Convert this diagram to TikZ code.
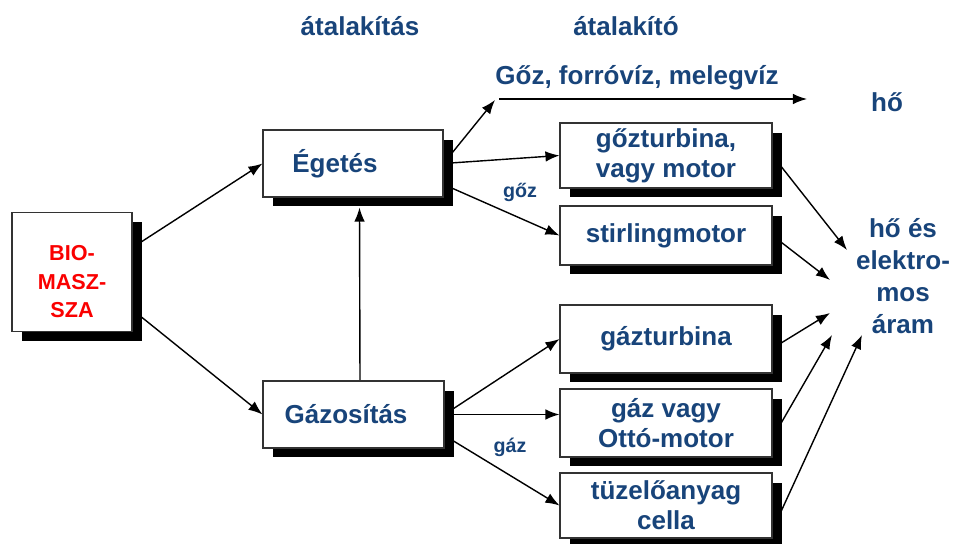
\documentclass[tikz,border=0pt]{standalone}
\usepackage{fontspec}
\setmainfont{Liberation Sans}
\usetikzlibrary{arrows.meta,shadows,backgrounds}
\definecolor{darkblue}{RGB}{24,68,122}
\definecolor{biored}{RGB}{250,0,0}
\tikzset{
  box/.style={draw=black!80, line width=0.6pt, fill=white, align=center, inner sep=2pt,
    text=darkblue, font=\bfseries\fontsize{14.8}{17}\selectfont,
    drop shadow={shadow xshift=0.2cm, shadow yshift=-0.19cm, opacity=1, fill=black}},
  sidebox/.style={box, minimum width=4.24cm},
  txt/.style={text=darkblue, font=\bfseries\fontsize{14.8}{18.1}\selectfont, inner sep=0pt, align=center},
  smalltxt/.style={txt, font=\bfseries\fontsize{11.2}{13}\selectfont},
  flow/.style={-{Latex[length=8pt,width=6pt]}, line width=0.8pt}
}
\begin{document}
\begin{tikzpicture}[x=0.02cm,y=-0.02cm]
    \useasboundingbox (0,0) rectangle (954,544);
    % Headings %
    \node[txt, anchor=base] (hconv) at (360,36) {átalakítás};
    \node[txt, anchor=base] (hdev) at (626,36) {átalakító};

    % Boxes %
    \node[box, minimum width=2.4cm, minimum height=2.38cm] (bio) at (72,272) {};
    \node[txt, text=biored, font=\bfseries\fontsize{12.3}{16.2}\selectfont] (biotext) at (72,282) {BIO-\\MASZ-\\SZA};
    \node[box, minimum width=3.6cm, minimum height=1.34cm] (eget) at (353,163.5) {Égetés\hspace*{0.72cm}};
    \node[box, minimum width=3.62cm, minimum height=1.34cm] (gaz) at (353.5,414.5) {Gázosítás\hspace*{0.3cm}};
    \node[sidebox, minimum height=1.3cm] (gturb) at (666,155.5) {gőzturbina,\\vagy motor};
    \node[sidebox, minimum height=1.18cm] (stirl) at (666,235.5) {stirlingmotor};
    \node[sidebox, minimum height=1.36cm] (gasturb) at (666,339) {gázturbina};
    \node[sidebox, minimum height=1.36cm] (otto) at (666,423) {gáz vagy\\Ottó-motor};
    \node[sidebox, minimum height=1.3cm] (fuel) at (666,505.5) {tüzelőanyag\\cella};

    % Outputs %
    \node[txt, anchor=base] (hotwater) at (637,85) {Gőz, forróvíz, melegvíz};
    \node[txt, anchor=base] (heat) at (887,112) {hő};
    \node[txt] (power) at (903,276) {hő és\\elektro-\\mos\\áram};
    \node[smalltxt, anchor=base] (steamlbl) at (520,197) {gőz};
    \node[smalltxt, anchor=base] (gaslbl) at (510,452) {gáz};

    \coordinate (steamin) at (495,100);
    \coordinate (pipeA) at (499,99);
    \coordinate (pipeB) at (807,99);
    \coordinate (pw1) at (847,250);
    \coordinate (pw2) at (830,280);
    \coordinate (pw3) at (830,313);
    \coordinate (pw4) at (832,335);
    \coordinate (pw5) at (862,335);

    % Connectors %
    \begin{scope}[on background layer]
    \draw[flow] (bio.22) -- (eget.west);
    \draw[flow] (bio.-32) -- (gaz.west);
    \draw[flow] ([xshift=0.13cm]gaz.north) -- ([xshift=0.13cm,yshift=-0.2cm]eget.south);
    \draw[flow] (eget.east) -- (steamin);
    \draw[flow] (pipeA) -- (pipeB);
    \draw[flow] (eget.east) -- (gturb.west);
    \draw[flow] (eget.-13) -- (stirl.west);
    \draw[flow] (gaz.east) -- (gasturb.west);
    \draw[flow] (gaz.east) -- (gaz.east -| otto.west);
    \draw[flow] (gaz.-13) -- (fuel.west);
    \draw[flow] (gturb.east) -- (pw1);
    \draw[flow] (stirl.east) -- (pw2);
    \draw[flow] (gasturb.-5) -- (pw3);
    \draw[flow] (otto.-8) -- (pw4);
    \draw[flow] (fuel.-13) -- (pw5);
    \end{scope}
\end{tikzpicture}
\end{document}
